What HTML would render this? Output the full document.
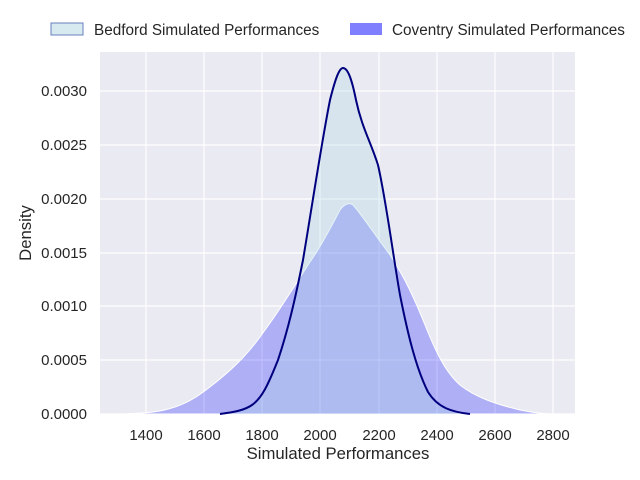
<!DOCTYPE html>
<html><head><style>body{margin:0;background:#fff}svg{display:block}text{font-family:"Liberation Sans",sans-serif;fill:#262626}</style></head><body>
<svg width="640" height="480" xmlns="http://www.w3.org/2000/svg">
<rect x="100" y="52" width="475" height="362" fill="#eaeaf2"/>
<g stroke="#fff" stroke-width="1.2">
<line x1="146" y1="52" x2="146" y2="414"/><line x1="204" y1="52" x2="204" y2="414"/><line x1="262" y1="52" x2="262" y2="414"/><line x1="320" y1="52" x2="320" y2="414"/><line x1="379" y1="52" x2="379" y2="414"/><line x1="437" y1="52" x2="437" y2="414"/><line x1="495" y1="52" x2="495" y2="414"/><line x1="553" y1="52" x2="553" y2="414"/>
<line x1="100" y1="414" x2="575" y2="414"/><line x1="100" y1="360" x2="575" y2="360"/><line x1="100" y1="306" x2="575" y2="306"/><line x1="100" y1="253" x2="575" y2="253"/><line x1="100" y1="199" x2="575" y2="199"/><line x1="100" y1="145" x2="575" y2="145"/><line x1="100" y1="91" x2="575" y2="91"/>
</g>
<path d="M120,414 C150,413 160,412 175,407 C190,402 200,395 215,383 C235,367 250,352 265,330 C280,310 295,285 310,262 C322,245 332,225 340,210 C344,204 350,202 353,205 C362,215 375,235 390,255 C405,278 415,300 425,325 C435,350 445,372 460,385 C475,397 495,404 520,410 C535,413 545,414 555,414 Z" fill="#0000ff" fill-opacity="0.25" stroke="#fff" stroke-width="1"/>
<path d="M220,414 C235,412 245,410 252,405 C262,398 268,385 278,360 C288,330 295,300 303,260 C313,200 322,140 330,100 C335,80 339,68 343,68 C348,68 352,80 356,100 C362,128 370,140 378,165 C386,200 393,255 400,295 C408,335 416,368 428,392 C438,408 452,412 470,414 Z" fill="#add8e6" fill-opacity="0.3"/>
<path d="M220,414 C235,412 245,410 252,405 C262,398 268,385 278,360 C288,330 295,300 303,260 C313,200 322,140 330,100 C335,80 339,68 343,68 C348,68 352,80 356,100 C362,128 370,140 378,165 C386,200 393,255 400,295 C408,335 416,368 428,392 C438,408 452,412 470,414" fill="none" stroke="#00007f" stroke-width="2" stroke-linejoin="round"/>
<g font-size="15" text-anchor="end">
<text x="87" y="419">0.0000</text><text x="87" y="365">0.0005</text><text x="87" y="311">0.0010</text><text x="87" y="258">0.0015</text><text x="87" y="204">0.0020</text><text x="87" y="150">0.0025</text><text x="87" y="96">0.0030</text>
</g>
<g font-size="15" text-anchor="middle">
<text x="146" y="440">1400</text><text x="204" y="440">1600</text><text x="262" y="440">1800</text><text x="320" y="440">2000</text><text x="379" y="440">2200</text><text x="437" y="440">2400</text><text x="495" y="440">2600</text><text x="553" y="440">2800</text>
<text x="338" y="459" font-size="16.7">Simulated Performances</text>
<text transform="translate(31,233) rotate(-90)" font-size="16.7">Density</text>
</g>
<rect x="51" y="23" width="32" height="12" fill="#d6eaf0" stroke="#6a7fc0" stroke-width="1"/>
<text x="94" y="35" font-size="15.3">Bedford Simulated Performances</text>
<rect x="350" y="23" width="32" height="12" fill="#8080ff"/>
<text x="392" y="35" font-size="15.3">Coventry Simulated Performances</text>
</svg>
</body></html>
